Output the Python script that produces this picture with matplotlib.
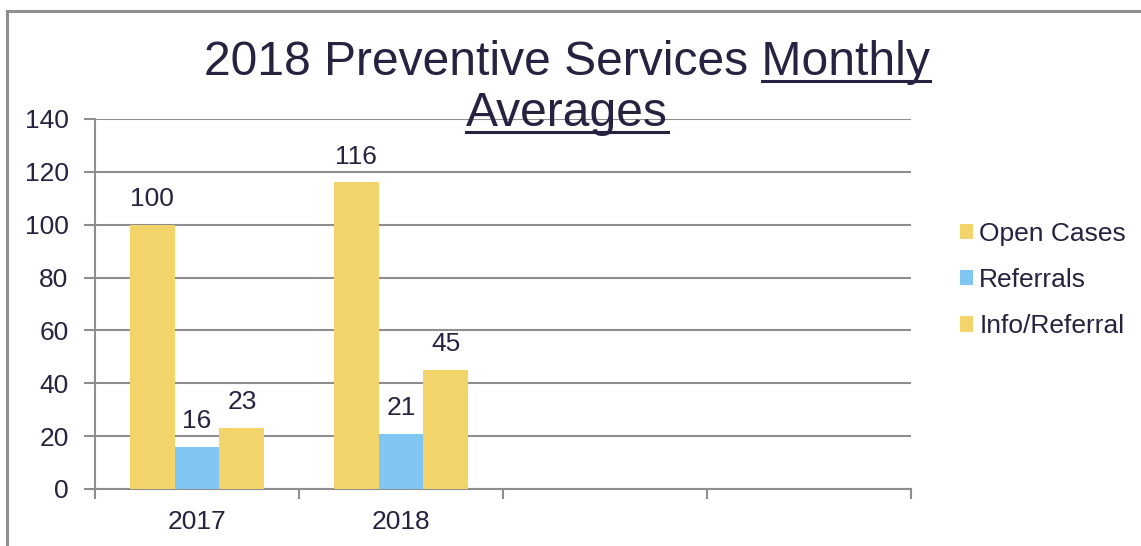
import matplotlib.pyplot as plt
from matplotlib.patches import Rectangle
from matplotlib.lines import Line2D
import numpy as np

# chart data
years = ["2017", "2018", "", ""]
open_cases = [100, 116]
referrals = [16, 21]
info_referral = [23, 45]
series_names = ["Open Cases", "Referrals", "Info/Referral"]
y_ticks = [0, 20, 40, 60, 80, 100, 120, 140]
title_line1 = "2018 Preventive Services Monthly"
title_line2 = "Averages"
underlined_word = "Monthly"

yellow = "#F2D46B"
blue = "#7FC6F2"
grey = "#8E8E92"
ink = "#26223F"

plt.rcParams["font.family"] = ["Liberation Sans", "DejaVu Sans"]

fig = plt.figure(figsize=(11.41, 5.46), dpi=100)
W, H = 1141, 546

# outer frame of the chart object
fig.patches.append(Rectangle((7 / W, -0.1), 1.2, (546 - 11) / H + 0.1,
                             transform=fig.transFigure, fill=False,
                             edgecolor=grey, linewidth=2.2))

ax = fig.add_axes([95 / W, (546 - 489) / H, (911 - 95) / W, (489 - 119) / H])

x = np.arange(len(open_cases))
w = 0.22
groups = [(open_cases, yellow, -w), (referrals, blue, 0), (info_referral, yellow, w)]
for (vals, col, off), name in zip(groups, series_names):
    b = ax.bar(x + off, vals, w, color=col, label=name, zorder=3)
    for rect, v in zip(b, vals):
        ax.annotate(str(v), (rect.get_x() + rect.get_width() / 2, v),
                    xytext=(0, 10), textcoords="offset points",
                    ha="center", va="bottom", fontsize=19, color=ink)

ax.set_xlim(-0.5, len(years) - 0.5)
ax.set_ylim(0, 140)
ax.set_yticks(y_ticks)
ax.set_xticks(range(len(years)))
ax.set_xticklabels(years)
ax.set_xticks(np.arange(-0.5, len(years)), minor=True)
ax.tick_params(axis="x", which="major", length=0, labelsize=19, labelcolor=ink, pad=15)
ax.tick_params(axis="x", which="minor", length=7, width=1.5, color=grey)
ax.tick_params(axis="y", length=8, width=1.5, color=grey, labelsize=19,
               labelcolor=ink, pad=11)
ax.grid(axis="y", color=grey, linewidth=1.5, zorder=0)
for s in ["top", "right"]:
    ax.spines[s].set_visible(False)
for s in ["left", "bottom"]:
    ax.spines[s].set_color(grey)
    ax.spines[s].set_linewidth(1.5)

ax.legend(loc="center left", bbox_to_anchor=(936 / W, (546 - 280) / H),
          bbox_transform=fig.transFigure, frameon=False, fontsize=19,
          handlelength=0.52, handleheight=0.52, handletextpad=0.22,
          labelspacing=0.85, labelcolor=ink)

# title: two centred lines, fitted to the wanted width, with underlines
renderer = fig.canvas.get_renderer()
t1 = fig.text(567 / W, (546 - 75) / H, title_line1, ha="center",
              va="baseline", fontsize=37, color=ink)
t1.set_fontsize(37 * 726 / t1.get_window_extent(renderer).width)
size = t1.get_fontsize()
t2 = fig.text(567 / W, (546 - 126) / H, title_line2, ha="center",
              va="baseline", fontsize=size, color=ink)

probe = fig.text(0, 0, underlined_word, fontsize=size)
word_w = probe.get_window_extent(renderer).width
probe.remove()

bb1 = t1.get_window_extent(renderer)
bb2 = t2.get_window_extent(renderer)
for x0, x1, yb in [(bb1.x1 - word_w, bb1.x1, 546 - 75), (bb2.x0, bb2.x1, 546 - 126)]:
    yl = (yb - 6) / H
    fig.add_artist(Line2D([x0 / W, x1 / W], [yl, yl], transform=fig.transFigure,
                          color=ink, linewidth=2.2))

fig.savefig("out.png", dpi=100)
